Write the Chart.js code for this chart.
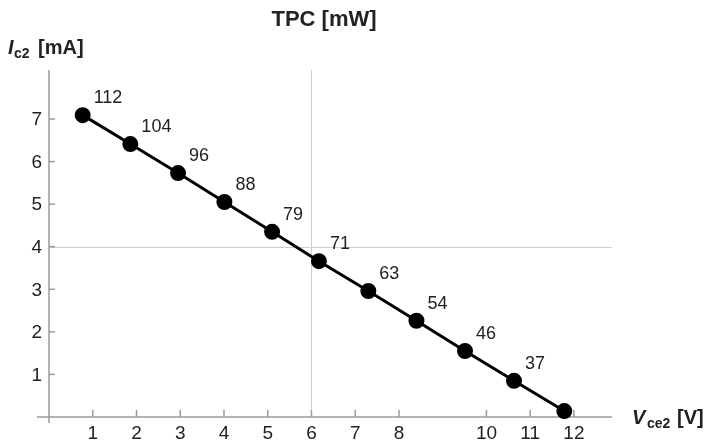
<!DOCTYPE html>
<html>
<head>
<meta charset="utf-8">
<script src="https://cdn.jsdelivr.net/npm/chart.js@4/dist/chart.umd.min.js"></script>
<style>
  html, body { margin: 0; padding: 0; background: #fff; }
  #wrap { width: 712px; height: 444px; }
</style>
</head>
<body>
<div id="wrap"><canvas id="tpcChart" width="712" height="444"></canvas></div>
<script>
// ==============================
// DATA
// ==============================
const vce2 = [0.77, 1.86, 2.95, 4.01, 5.10, 6.17, 7.30, 8.40, 9.51, 10.63, 11.78];
const ic2 = [7.09, 6.41, 5.73, 5.05, 4.35, 3.66, 2.96, 2.26, 1.55, 0.85, 0.14];
const tpcLabels = ["112", "104", "96", "88", "79", "71", "63", "54", "46", "37", ""];

const xTicks = [1, 2, 3, 4, 5, 6, 7, 8, 10, 11, 12];
const yTicks = [1, 2, 3, 4, 5, 6, 7];
const xGrid = [6];
const yGrid = [4];

const FONT = "'Liberation Sans', Arial, Helvetica, sans-serif";
const TEXT = "#222";
const AXIS = "#9a9a9a";
const GRID = "#cfcfcf";

// ==============================
// HELPERS
// ==============================
// draws text pieces (font, text, x, baseline) for titles with subscripts
function drawRuns(ctx, runs) {
  runs.forEach(r => {
    ctx.font = r.font;
    ctx.fillText(r.text, r.x, r.y);
  });
}

// ==============================
// AXES + GRID (axes cross at 0)
// ==============================
const axesPlugin = {
  id: "axesPlugin",
  beforeDatasetsDraw(chart) {
    const { ctx, scales: { x, y } } = chart;
    const x0 = x.getPixelForValue(0);
    const y0 = y.getPixelForValue(0);
    const xEnd = x.getPixelForValue(x.max);
    const yTop = y.getPixelForValue(y.max);

    ctx.save();
    ctx.lineWidth = 1;
    ctx.strokeStyle = GRID;
    xGrid.forEach(v => {
      const px = Math.round(x.getPixelForValue(v)) + 0.5;
      ctx.beginPath();
      ctx.moveTo(px, yTop);
      ctx.lineTo(px, y0);
      ctx.stroke();
    });
    yGrid.forEach(v => {
      const py = Math.round(y.getPixelForValue(v)) + 0.5;
      ctx.beginPath();
      ctx.moveTo(x0, py);
      ctx.lineTo(xEnd, py);
      ctx.stroke();
    });

    ctx.strokeStyle = AXIS;
    ctx.lineWidth = 1.5;
    ctx.beginPath();
    ctx.moveTo(x0 - 12, y0);
    ctx.lineTo(xEnd, y0);
    ctx.moveTo(x0, yTop);
    ctx.lineTo(x0, y0 + 6);
    ctx.stroke();

    // tick marks
    xTicks.forEach(v => {
      const px = x.getPixelForValue(v);
      ctx.beginPath();
      ctx.moveTo(px, y0);
      ctx.lineTo(px, y0 - 7);
      ctx.stroke();
    });
    yTicks.forEach(v => {
      const py = y.getPixelForValue(v);
      ctx.beginPath();
      ctx.moveTo(x0, py);
      ctx.lineTo(x0 + 6, py);
      ctx.stroke();
    });

    // tick labels
    ctx.fillStyle = TEXT;
    ctx.font = "19px " + FONT;
    ctx.textAlign = "center";
    ctx.textBaseline = "middle";
    xTicks.forEach(v => ctx.fillText(String(v), x.getPixelForValue(v), y0 + 17));
    ctx.textAlign = "right";
    yTicks.forEach(v => ctx.fillText(String(v), x0 - 7, y.getPixelForValue(v) + 1));
    ctx.restore();
  },

  afterDraw(chart) {
    const { ctx } = chart;
    const meta = chart.getDatasetMeta(0);

    ctx.save();
    ctx.fillStyle = TEXT;

    // TPC value next to each point
    ctx.font = "18px " + FONT;
    ctx.textAlign = "left";
    ctx.textBaseline = "middle";
    meta.data.forEach((pt, i) => {
      if (tpcLabels[i]) ctx.fillText(tpcLabels[i], pt.x + 11, pt.y - 17);
    });

    // titles
    ctx.textBaseline = "alphabetic";
    ctx.textAlign = "center";
    ctx.font = "bold 22px " + FONT;
    ctx.fillText("TPC [mW]", 324, 26);

    ctx.textAlign = "left";
    drawRuns(ctx, [
      { font: "italic bold 20px " + FONT, text: "I", x: 8, y: 54 },
      { font: "bold 14px " + FONT, text: "c2", x: 14, y: 58 },
      { font: "bold 20px " + FONT, text: "[mA]", x: 38, y: 54 },
    ]);
    drawRuns(ctx, [
      { font: "italic bold 20px " + FONT, text: "V", x: 632, y: 424 },
      { font: "bold 14px " + FONT, text: "ce2", x: 647, y: 428 },
      { font: "bold 20px " + FONT, text: "[V]", x: 677, y: 424 },
    ]);
    ctx.restore();
  },
};

// ==============================
// CHART
// ==============================
const ctx = document.getElementById("tpcChart").getContext("2d");

const chart = new Chart(ctx, {
  type: "scatter",
  data: {
    datasets: [
      {
        label: "Ic2",
        data: vce2.map((v, i) => ({ x: v, y: ic2[i] })),
        showLine: true,
        borderColor: "#000",
        borderWidth: 3,
        backgroundColor: "#000",
        pointRadius: 6.5,
        pointHoverRadius: 6.5,
        clip: false,
      },
    ],
  },
  options: {
    responsive: false,
    animation: false,
    layout: {
      padding: { left: 49, right: 100, top: 70, bottom: 27 },
    },
    plugins: {
      legend: { display: false },
      tooltip: { enabled: false },
    },
    scales: {
      x: { type: "linear", min: 0, max: 12.87, display: false },
      y: { type: "linear", min: 0, max: 8.15, display: false },
    },
  },
  plugins: [axesPlugin],
});
</script>
</body>
</html>
